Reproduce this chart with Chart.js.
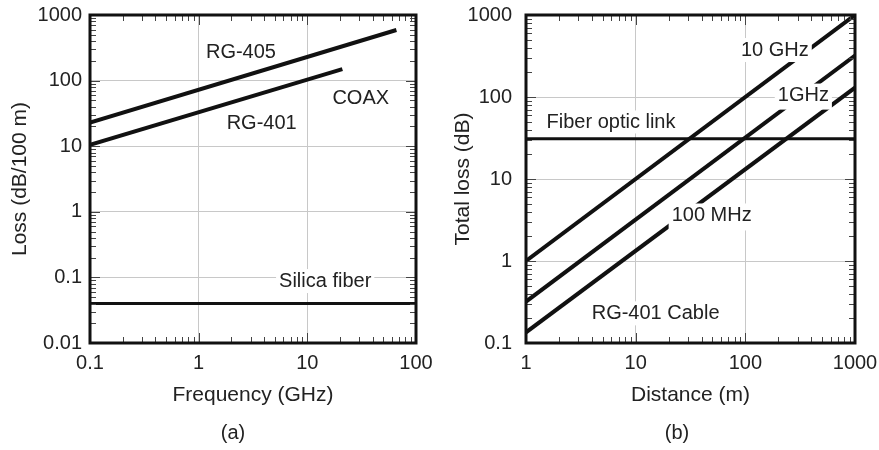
<!DOCTYPE html>
<html>
<head>
<meta charset="utf-8">
<script src="https://cdn.jsdelivr.net/npm/chart.js@4.4.1/dist/chart.umd.min.js"></script>
<style>
  body { margin: 0; background: #fff; }
  #wrap { position: relative; width: 879px; height: 450px; }
  canvas { position: absolute; top: 0; }
</style>
</head>
<body>
<div id="wrap">
  <canvas id="chartA" width="440" height="450" style="left:0"></canvas>
  <canvas id="chartB" width="439" height="450" style="left:440px"></canvas>
</div>
<script>
// (a) loss per 100 m against frequency
const freqTicks = [0.1, 1, 10, 100]
const lossTicks = [0.01, 0.1, 1, 10, 100, 1000]
const rg405Freq = [0.1, 66]
const rg405Loss = [23, 590]
const rg401Freq = [0.1, 21]
const rg401Loss = [10.5, 150]
const silicaFreq = [0.1, 100]
const silicaLoss = [0.04, 0.04]

// (b) total loss against distance
const distTicks = [1, 10, 100, 1000]
const totalTicks = [0.1, 1, 10, 100, 1000]
const distance = [1, 1000]
const loss10GHz = [1, 1000]
const loss1GHz = [0.32, 320]
const loss100MHz = [0.135, 130]
const fiberLink = [31, 31]

const labelsA = [
  { text: 'RG-405', x: 2.45, y: 268, below: 8 },
  { text: 'RG-401', x: 3.8, y: 22.2 },
  { text: 'COAX', x: 31, y: 52.5 },
  { text: 'Silica fiber', x: 14.6, y: 0.088 }
]
const labelsB = [
  { text: '10 GHz', x: 186, y: 374 },
  { text: '1GHz', x: 338, y: 104, below: 14 },
  { text: '100 MHz', x: 49.3, y: 3.59, below: 15 },
  { text: 'RG-401 Cable', x: 15.2, y: 0.23 },
  { text: 'Fiber optic link', x: 5.96, y: 48.9, below: 11 }
]

const FONT = '"Liberation Sans", Arial, Helvetica, sans-serif'
Chart.defaults.font.family = FONT
Chart.defaults.font.size = 20
Chart.defaults.color = '#222'

function toPoints(xs, ys) {
  return xs.map((x, i) => ({ x: x, y: ys[i] }))
}

function logSteps(min, max) {
  let out = []
  for (let e = Math.floor(Math.log10(min)); e <= Math.ceil(Math.log10(max)); e++) {
    for (let m = 1; m <= 9; m++) {
      let v = m * Math.pow(10, e)
      if (v >= min * 0.999 && v <= max * 1.001) out.push({ v: v, major: m === 1 })
    }
  }
  return out
}

const decor = {
  id: 'decor',
  afterDatasetsDraw(chart, args, opts) {
    const ctx = chart.ctx
    const { left, right, top, bottom } = chart.chartArea
    const xs = chart.scales.x
    const ys = chart.scales.y
    ctx.save()

    // text labels sit on white boxes that hide whatever is under them
    ctx.font = '20px ' + FONT
    ctx.textAlign = 'center'
    ctx.textBaseline = 'middle'
    opts.labels.forEach(l => {
      let px = xs.getPixelForValue(l.x)
      let py = ys.getPixelForValue(l.y)
      let w = ctx.measureText(l.text).width
      let below = l.below || 12
      ctx.fillStyle = '#fff'
      ctx.fillRect(px - w / 2 - 3, py - 12, w + 6, 12 + below)
      ctx.fillStyle = '#222'
      ctx.fillText(l.text, px, py)
    })

    // inside ticks on all four sides
    ctx.strokeStyle = '#444'
    ctx.lineWidth = 1
    ctx.beginPath()
    logSteps(xs.min, xs.max).forEach(t => {
      let px = Math.round(xs.getPixelForValue(t.v)) + 0.5
      let len = t.major ? 10 : 6
      ctx.moveTo(px, bottom); ctx.lineTo(px, bottom - len)
      ctx.moveTo(px, top); ctx.lineTo(px, top + len)
    })
    logSteps(ys.min, ys.max).forEach(t => {
      let py = Math.round(ys.getPixelForValue(t.v)) + 0.5
      let len = t.major ? 10 : 6
      ctx.moveTo(left, py); ctx.lineTo(left + len, py)
      ctx.moveTo(right, py); ctx.lineTo(right - len, py)
    })
    ctx.stroke()

    // frame
    ctx.strokeStyle = '#111'
    ctx.lineWidth = 3
    ctx.strokeRect(left, top, right - left, bottom - top)
    ctx.restore()
  },
  afterDraw(chart, args, opts) {
    const ctx = chart.ctx
    ctx.save()
    ctx.font = '20px ' + FONT
    ctx.fillStyle = '#222'
    ctx.textAlign = 'center'
    ctx.textBaseline = 'middle'
    ctx.fillText(opts.caption, opts.captionX, 433)
    ctx.restore()
  }
}

function lineSet(points, width) {
  return {
    data: points,
    borderColor: '#111',
    borderWidth: width,
    pointRadius: 0,
    tension: 0,
    borderCapStyle: 'butt'
  }
}

function logAxis(min, max, tickList, title, opt) {
  return {
    type: 'logarithmic',
    min: min,
    max: max,
    afterBuildTicks: s => { s.ticks = tickList.map(v => ({ value: v })) },
    afterFit: s => {
      if (opt.height) s.height = opt.height
      if (opt.width) s.width = opt.width
      // keep the plot box where the layout padding puts it
      s.paddingTop = 0
      s.paddingBottom = 0
      s.paddingLeft = 0
      s.paddingRight = 0
    },
    grid: { color: '#c8c8c8', lineWidth: 1, drawTicks: false },
    border: { display: false },
    ticks: {
      padding: opt.tickPad,
      color: '#222',
      autoSkip: false,
      maxRotation: 0,
      callback: v => String(v)
    },
    title: { display: true, text: title, color: '#222', font: { size: 21 }, padding: opt.titlePad }
  }
}

function makeChart(id, datasets, xAxis, yAxis, labels, caption, captionX) {
  return new Chart(document.getElementById(id), {
    type: 'line',
    data: { datasets: datasets },
    options: {
      responsive: false,
      animation: false,
      devicePixelRatio: 1,
      layout: { padding: { left: 0, right: 24, top: 15, bottom: 42 } },
      scales: { x: xAxis, y: yAxis },
      plugins: {
        legend: { display: false },
        tooltip: { enabled: false },
        decor: { labels: labels, caption: caption, captionX: captionX }
      }
    },
    plugins: [decor]
  })
}

makeChart('chartA',
  [
    lineSet(toPoints(rg405Freq, rg405Loss), 4),
    lineSet(toPoints(rg401Freq, rg401Loss), 4),
    lineSet(toPoints(silicaFreq, silicaLoss), 3)
  ],
  logAxis(0.1, 100, freqTicks, 'Frequency (GHz)', { height: 65, tickPad: 8, titlePad: 0 }),
  logAxis(0.01, 1000, lossTicks, 'Loss (dB/100 m)', { width: 90, tickPad: 8, titlePad: { top: 8, bottom: 0 } }),
  labelsA, '(a)', 233)

makeChart('chartB',
  [
    lineSet(toPoints(distance, loss10GHz), 4),
    lineSet(toPoints(distance, loss1GHz), 4),
    lineSet(toPoints(distance, loss100MHz), 4),
    lineSet(toPoints(distance, fiberLink), 3)
  ],
  logAxis(1, 1000, distTicks, 'Distance (m)', { height: 65, tickPad: 8, titlePad: 0 }),
  logAxis(0.1, 1000, totalTicks, 'Total loss (dB)', { width: 86, tickPad: 14, titlePad: { top: 11, bottom: 0 } }),
  labelsB, '(b)', 237)
</script>
</body>
</html>
